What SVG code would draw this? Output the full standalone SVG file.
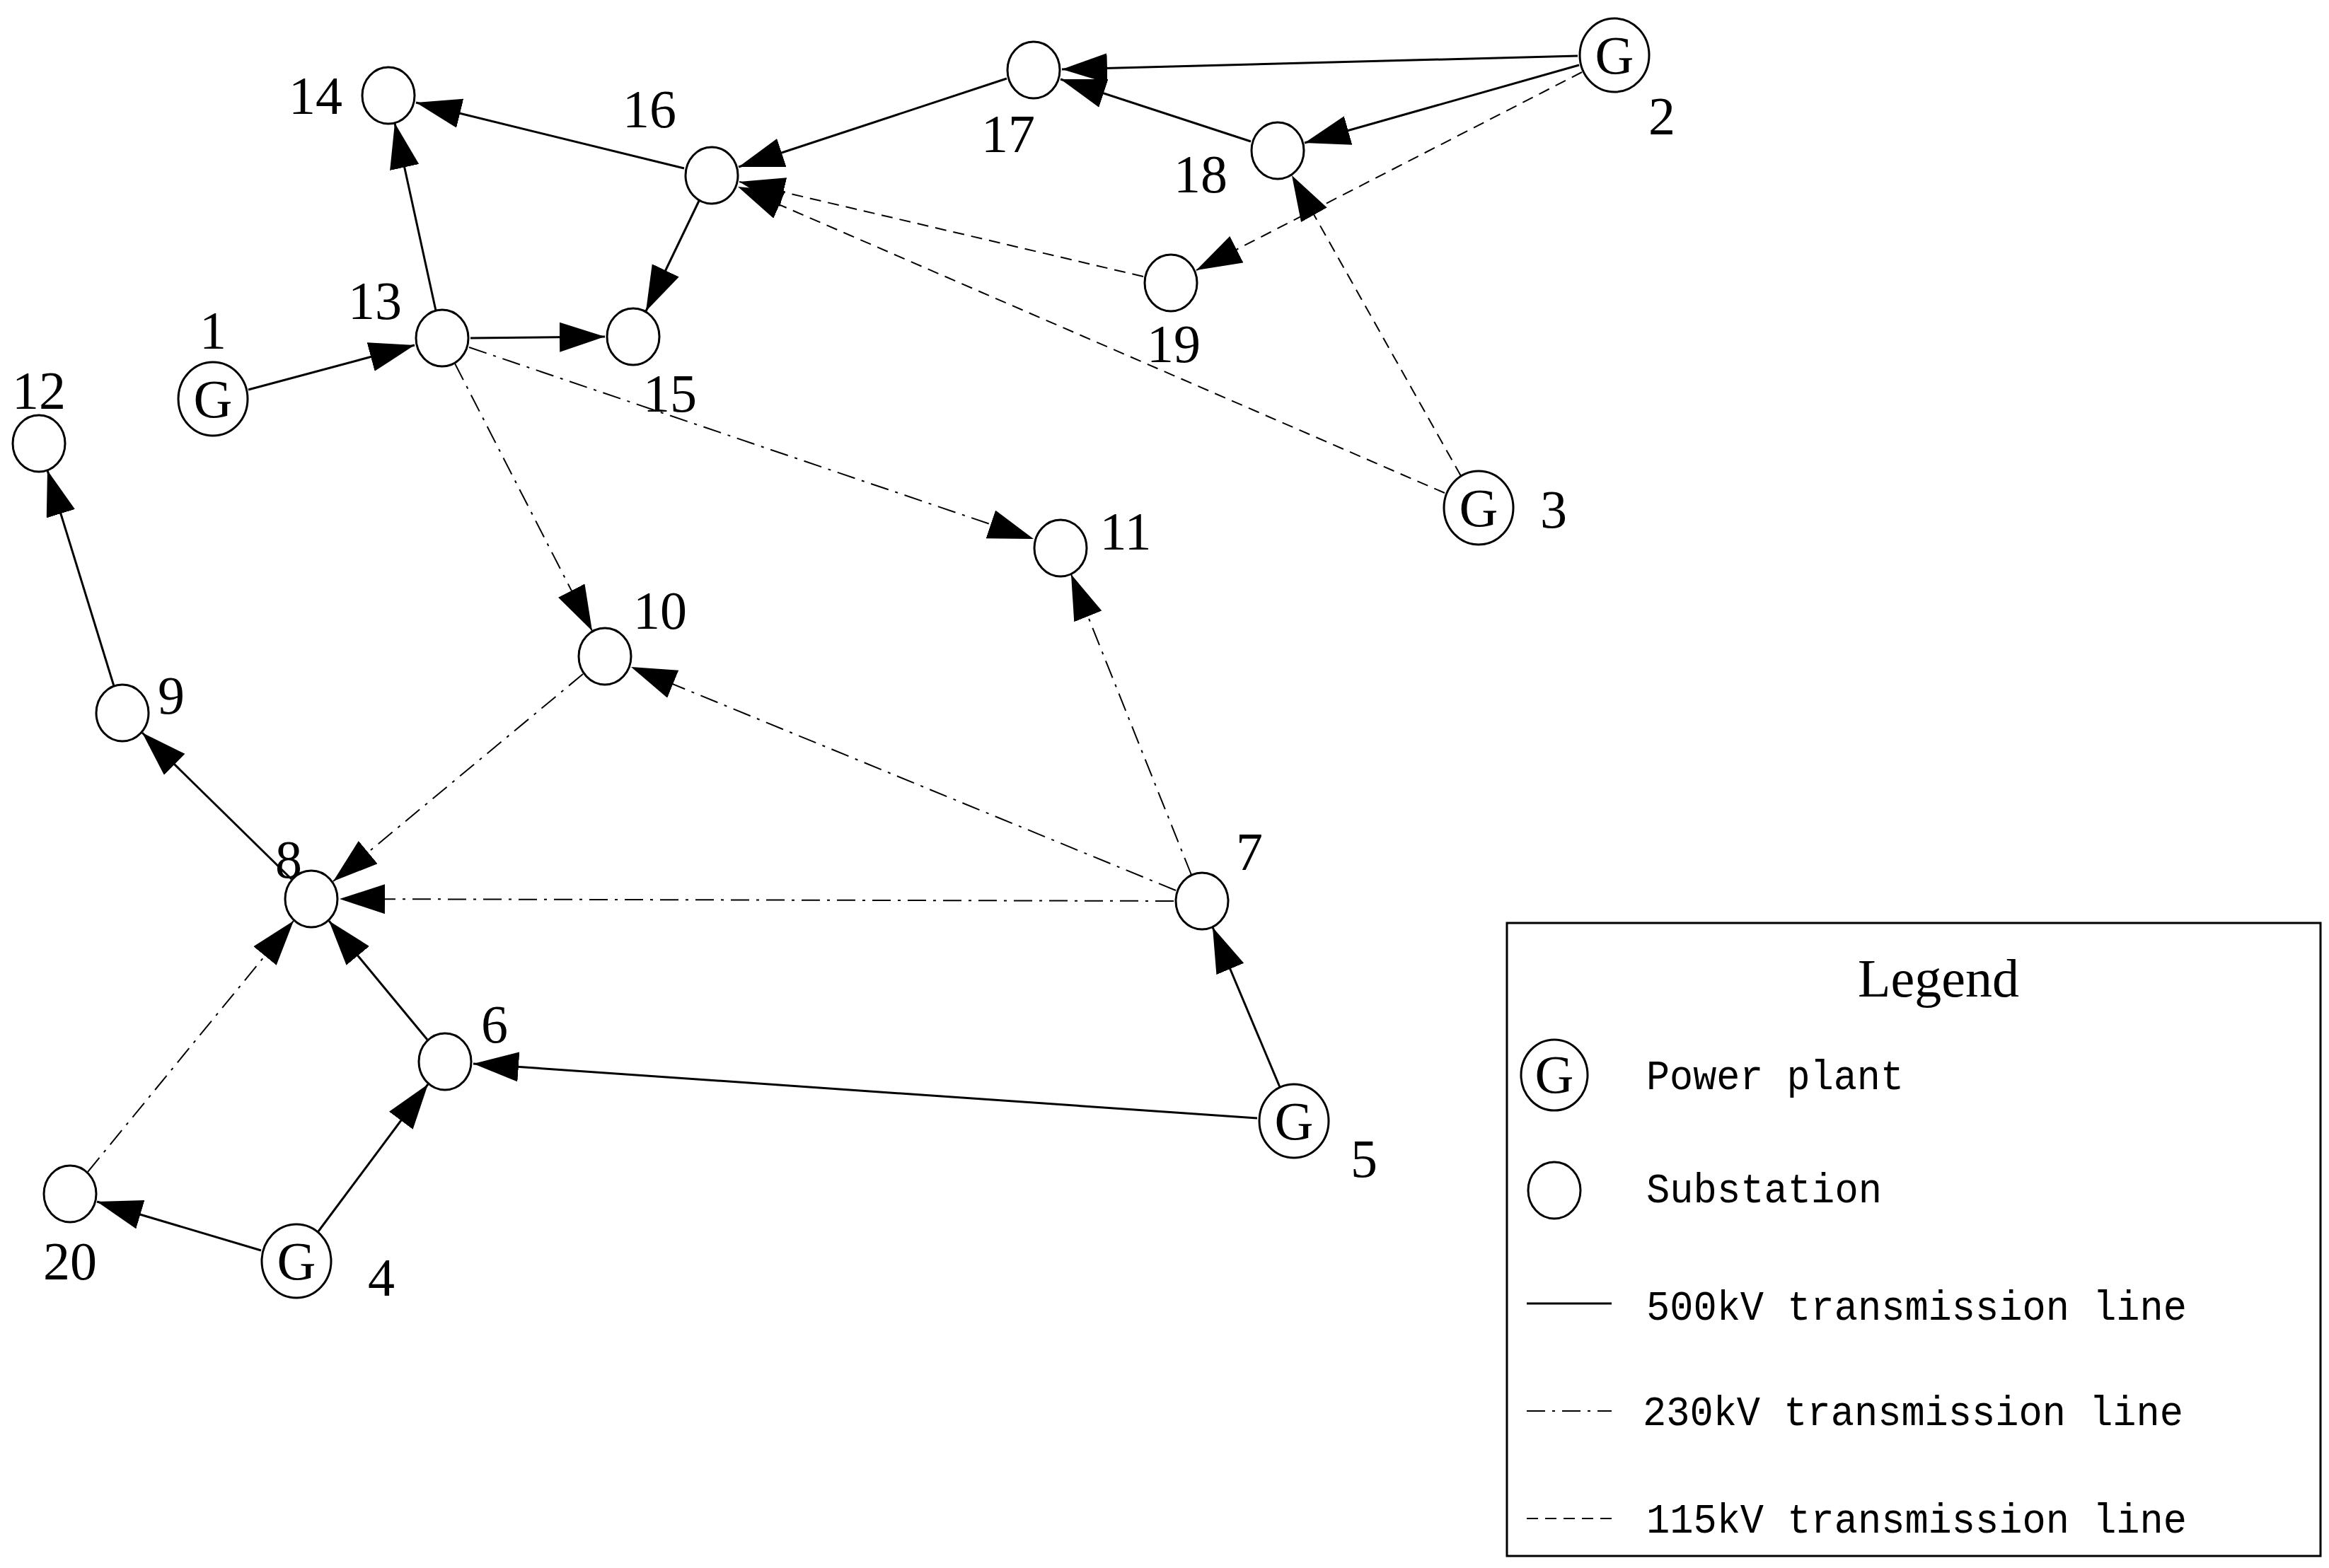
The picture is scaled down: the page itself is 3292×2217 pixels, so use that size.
<svg xmlns="http://www.w3.org/2000/svg" width="3292" height="2217" viewBox="0 0 3292 2217">
<style>
.sub{fill:#fff;stroke:#000;stroke-width:3}
.lbl{font-family:"Liberation Serif",serif;font-size:76px;text-anchor:middle;fill:#000}
.g{font-family:"Liberation Serif",serif;font-size:76px;text-anchor:middle;fill:#000}
.e{stroke:#000;stroke-width:3;fill:none;marker-end:url(#ah)}
.s500{}
.s230{stroke-dasharray:26 10 4 10;stroke-width:2}
.s115{stroke-dasharray:16 10;stroke-width:2}
.lt{font-family:"Liberation Mono",monospace;font-size:60px;fill:#000}
</style>
<defs>
<marker id="ah" markerUnits="userSpaceOnUse" markerWidth="70" markerHeight="44" refX="64" refY="21" orient="auto">
<path d="M0,0 L64,21 L0,42 z" fill="#000"/>
</marker>
</defs>
<rect width="3292" height="2217" fill="#fff"/>
<g id="connectors">
<line class="e s500" x1="351" y1="551" x2="586" y2="488"/>
<line class="e s500" x1="616" y1="439" x2="558" y2="174"/>
<line class="e s500" x1="665" y1="478" x2="855" y2="476"/>
<line class="e s500" x1="967" y1="238" x2="588" y2="145"/>
<line class="e s500" x1="988" y1="284" x2="913" y2="440"/>
<line class="e s500" x1="1423" y1="111" x2="1044" y2="236"/>
<line class="e s500" x1="2230" y1="79" x2="1501" y2="98"/>
<line class="e s500" x1="2232" y1="92" x2="1844" y2="202"/>
<line class="e s500" x1="1768" y1="200" x2="1499" y2="112"/>
<line class="e s500" x1="161" y1="970" x2="67" y2="665"/>
<line class="e s500" x1="412" y1="1243" x2="201" y2="1036"/>
<line class="e s500" x1="604" y1="1470" x2="465" y2="1302"/>
<line class="e s500" x1="450" y1="1741" x2="605" y2="1533"/>
<line class="e s500" x1="369" y1="1768" x2="137" y2="1699"/>
<line class="e s500" x1="1777" y1="1581" x2="669" y2="1504"/>
<line class="e s500" x1="1809" y1="1537" x2="1714" y2="1311"/>
<line class="e s230" x1="643" y1="514" x2="837" y2="892"/>
<line class="e s230" x1="663" y1="491" x2="1461" y2="762"/>
<line class="e s230" x1="824" y1="953" x2="471" y2="1246"/>
<line class="e s230" x1="1662" y1="1259" x2="892" y2="943"/>
<line class="e s230" x1="1659" y1="1274" x2="480" y2="1271"/>
<line class="e s230" x1="1684" y1="1237" x2="1514" y2="812"/>
<line class="e s230" x1="124" y1="1657" x2="415" y2="1302"/>
<line class="e s115" x1="1616" y1="391" x2="1045" y2="257"/>
<line class="e s115" x1="2042" y1="697" x2="1043" y2="264"/>
<line class="e s115" x1="2236" y1="102" x2="1691" y2="382"/>
<line class="e s115" x1="2065" y1="673" x2="1826" y2="248"/>
</g>
<g id="n1"><ellipse class="sub" cx="301" cy="564" rx="49" ry="52"/><text class="g" x="301" y="590">G</text><text class="lbl" x="301" y="493">1</text></g>
<g id="n2"><ellipse class="sub" cx="2282" cy="78" rx="49" ry="52"/><text class="g" x="2282" y="104">G</text><text class="lbl" x="2349" y="190">2</text></g>
<g id="n3"><ellipse class="sub" cx="2090" cy="718" rx="49" ry="52"/><text class="g" x="2090" y="744">G</text><text class="lbl" x="2196" y="746">3</text></g>
<g id="n4"><ellipse class="sub" cx="419" cy="1783" rx="49" ry="52"/><text class="g" x="419" y="1809">G</text><text class="lbl" x="539" y="1832">4</text></g>
<g id="n5"><ellipse class="sub" cx="1829" cy="1585" rx="49" ry="52"/><text class="g" x="1829" y="1611">G</text><text class="lbl" x="1928" y="1664">5</text></g>
<g id="n6"><ellipse class="sub" cx="629" cy="1501" rx="37" ry="40"/><text class="lbl" x="699" y="1474">6</text></g>
<g id="n7"><ellipse class="sub" cx="1699" cy="1274" rx="37" ry="40"/><text class="lbl" x="1766" y="1230">7</text></g>
<g id="n8"><ellipse class="sub" cx="440" cy="1271" rx="37" ry="40"/><text class="lbl" x="408" y="1241">8</text></g>
<g id="n9"><ellipse class="sub" cx="173" cy="1008" rx="37" ry="40"/><text class="lbl" x="242" y="1009">9</text></g>
<g id="n10"><ellipse class="sub" cx="855" cy="928" rx="37" ry="40"/><text class="lbl" x="933" y="889">10</text></g>
<g id="n11"><ellipse class="sub" cx="1499" cy="775" rx="37" ry="40"/><text class="lbl" x="1591" y="777">11</text></g>
<g id="n12"><ellipse class="sub" cx="55" cy="627" rx="37" ry="40"/><text class="lbl" x="55" y="578">12</text></g>
<g id="n13"><ellipse class="sub" cx="625" cy="478" rx="37" ry="40"/><text class="lbl" x="530" y="451">13</text></g>
<g id="n14"><ellipse class="sub" cx="549" cy="135" rx="37" ry="40"/><text class="lbl" x="446" y="161">14</text></g>
<g id="n15"><ellipse class="sub" cx="895" cy="476" rx="37" ry="40"/><text class="lbl" x="947" y="582">15</text></g>
<g id="n16"><ellipse class="sub" cx="1006" cy="248" rx="37" ry="40"/><text class="lbl" x="918" y="180">16</text></g>
<g id="n17"><ellipse class="sub" cx="1461" cy="99" rx="37" ry="40"/><text class="lbl" x="1425" y="215">17</text></g>
<g id="n18"><ellipse class="sub" cx="1806" cy="213" rx="37" ry="40"/><text class="lbl" x="1697" y="272">18</text></g>
<g id="n19"><ellipse class="sub" cx="1655" cy="400" rx="37" ry="40"/><text class="lbl" x="1659" y="512">19</text></g>
<g id="n20"><ellipse class="sub" cx="99" cy="1688" rx="37" ry="40"/><text class="lbl" x="99" y="1809">20</text></g>
<g id="legend">
<rect x="2130" y="1305" width="1150" height="895" fill="none" stroke="#000" stroke-width="3"/>
<text class="lbl" x="2740" y="1409" font-size="80">Legend</text>
<ellipse class="sub" cx="2197" cy="1520" rx="47" ry="50"/><text class="g" x="2197" y="1545" font-size="72">G</text>
<ellipse class="sub" cx="2197" cy="1683" rx="37" ry="40"/>
<line x1="2158" y1="1843" x2="2278" y2="1843" stroke="#000" stroke-width="3"/>
<line x1="2158" y1="1995" x2="2278" y2="1995" stroke="#000" stroke-width="2" stroke-dasharray="26 10 4 10"/>
<line x1="2158" y1="2147" x2="2278" y2="2147" stroke="#000" stroke-width="2" stroke-dasharray="16 10"/>
<text class="lt" x="2327" y="1540" textLength="364" lengthAdjust="spacingAndGlyphs">Power plant</text>
<text class="lt" x="2327" y="1700" textLength="333" lengthAdjust="spacingAndGlyphs">Substation</text>
<text class="lt" x="2327" y="1866" textLength="764" lengthAdjust="spacingAndGlyphs">500kV transmission line</text>
<text class="lt" x="2322" y="2015" textLength="764" lengthAdjust="spacingAndGlyphs">230kV transmission line</text>
<text class="lt" x="2327" y="2167" textLength="764" lengthAdjust="spacingAndGlyphs">115kV transmission line</text>
</g>
</svg>
